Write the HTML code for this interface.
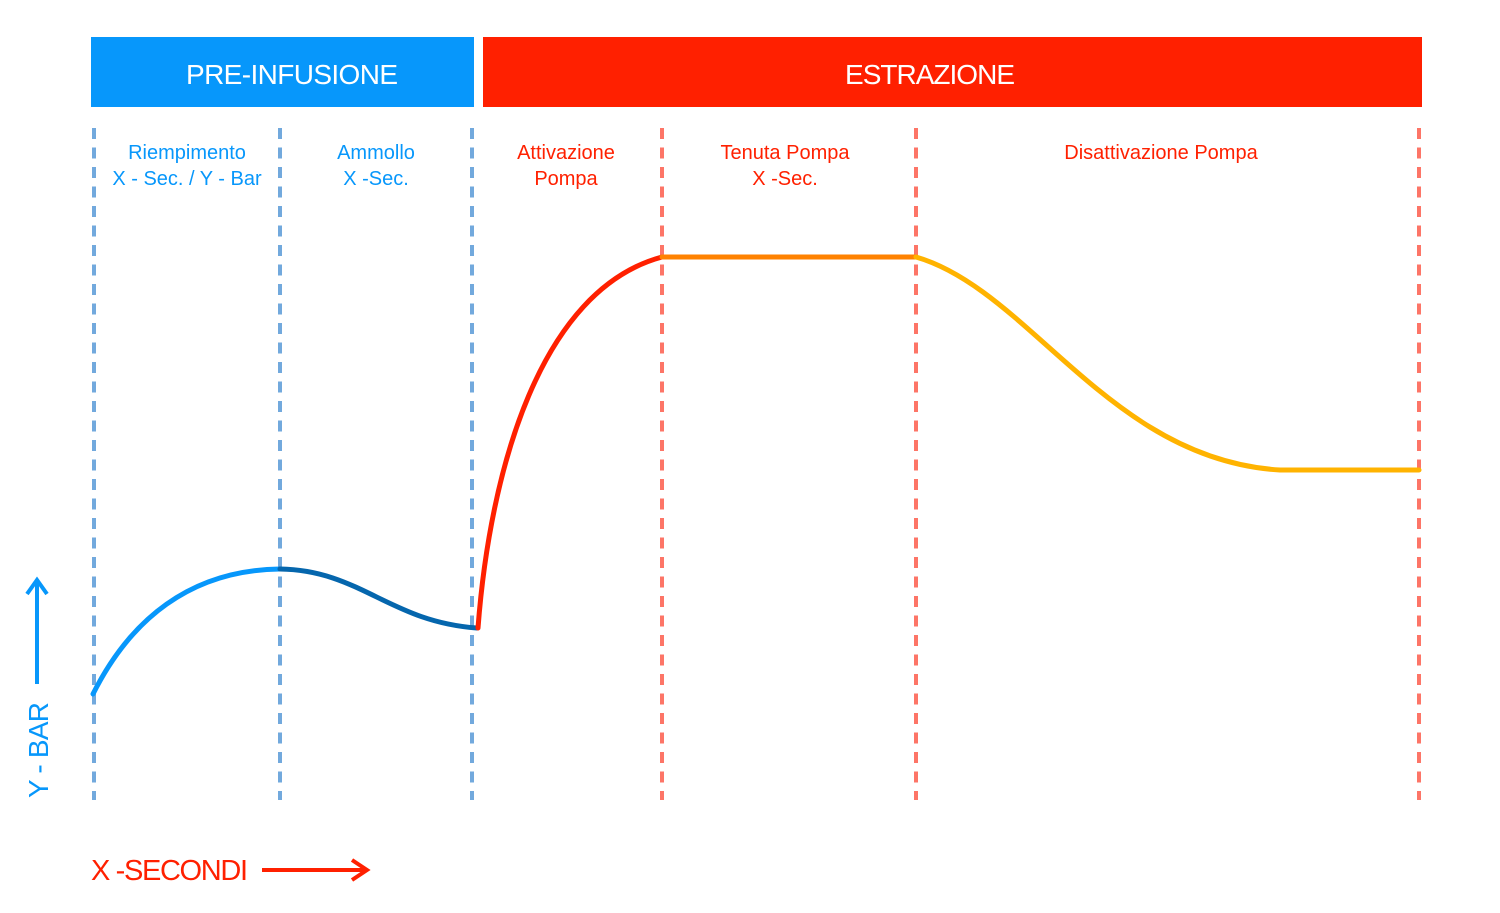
<!DOCTYPE html>
<html><head><meta charset="utf-8"><style>
html,body{margin:0;padding:0;background:#fff;}
svg{display:block;font-family:"Liberation Sans",sans-serif;}
</style></head><body>
<svg width="1500" height="913" viewBox="0 0 1500 913" xmlns="http://www.w3.org/2000/svg">
<rect x="91" y="37" width="383" height="70" fill="#0797fb"/>
<rect x="483" y="37" width="939" height="70" fill="#ff2000"/>
<text x="292" y="84" fill="#fff" font-size="28" text-anchor="middle" textLength="212">PRE-INFUSIONE</text>
<text x="930" y="84" fill="#fff" font-size="28" text-anchor="middle" textLength="170">ESTRAZIONE</text>
<g stroke-width="4" stroke-dasharray="11 8.5" fill="none">
<line x1="94" y1="128" x2="94" y2="800" stroke="#72a9dd"/>
<line x1="280" y1="128" x2="280" y2="800" stroke="#72a9dd"/>
<line x1="472" y1="128" x2="472" y2="800" stroke="#72a9dd"/>
<line x1="662" y1="128" x2="662" y2="800" stroke="#fd7567"/>
<line x1="916" y1="128" x2="916" y2="800" stroke="#fd7567"/>
<line x1="1419" y1="128" x2="1419" y2="800" stroke="#fd7567"/>
</g>
<g font-size="20" text-anchor="middle">
<text x="187" y="159" fill="#0797fb">Riempimento</text>
<text x="187" y="185" fill="#0797fb">X - Sec. / Y - Bar</text>
<text x="376" y="159" fill="#0797fb">Ammollo</text>
<text x="376" y="185" fill="#0797fb">X -Sec.</text>
<text x="566" y="159" fill="#ff2000">Attivazione</text>
<text x="566" y="185" fill="#ff2000">Pompa</text>
<text x="785" y="159" fill="#ff2000">Tenuta Pompa</text>
<text x="785" y="185" fill="#ff2000">X -Sec.</text>
<text x="1161" y="159" fill="#ff2000">Disattivazione Pompa</text>
</g>
<g fill="none" stroke-width="5" stroke-linecap="round">
<path d="M93 694 C130 620 190 570 280 569" stroke="#0797fb"/>
<path d="M280 569 C360 570 390 622 477 628" stroke="#0566ad"/>
<path d="M478 628 C490 470 540 290 662 257" stroke="#ff2000"/>
<path d="M662 257 L916 257" stroke="#ff8200"/>
<path d="M916 257 C1030 290 1110 460 1280 470 L1419 470" stroke="#ffb300"/>
</g>
<g stroke="#0797fb" stroke-width="4" fill="none">
<line x1="37" y1="684" x2="37" y2="582"/>
<polyline points="27,594 37,580 47,594"/>
</g>
<text transform="translate(48,798) rotate(-90)" fill="#0797fb" font-size="28" textLength="96">Y - BAR</text>
<text x="91" y="880" fill="#ff2000" font-size="29" textLength="157">X -SECONDI</text>
<g stroke="#ff2000" stroke-width="4" fill="none">
<line x1="262" y1="870" x2="366" y2="870"/>
<polyline points="352,860 367,870 352,880"/>
</g>
</svg>
</body></html>
